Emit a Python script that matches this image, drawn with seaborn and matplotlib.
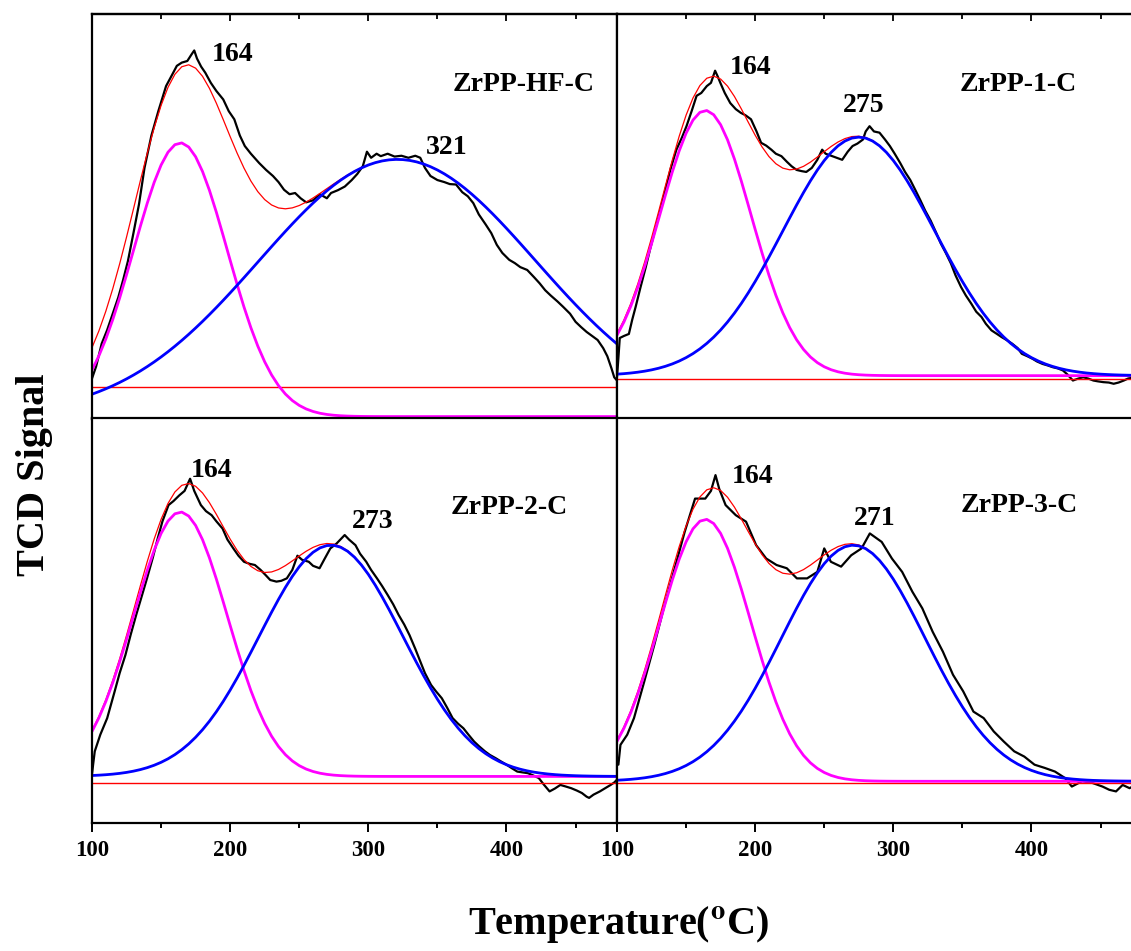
import numpy as np
import matplotlib
matplotlib.use("Agg")
import matplotlib.pyplot as plt
import seaborn as sns
from matplotlib.ticker import MultipleLocator

# ---------------------------------------------------------------- data
sample_names = ["ZrPP-HF-C", "ZrPP-1-C", "ZrPP-2-C", "ZrPP-3-C"]

# measured H2-TPR traces: temperature (°C) and TCD signal (a.u.)
temp_hf = [100, 103, 107, 111, 115, 119, 122.5, 126, 130, 134,
           138, 143, 148, 153.6, 158, 161.4, 165, 169, 172, 174,
           176, 179, 182, 186, 190, 195, 199, 203, 207, 210.6,
           215, 221, 226, 231, 235, 239, 243, 247, 251, 255,
           260, 265, 270, 273, 278, 283, 288, 292, 296, 299,
           302, 306, 309, 314, 319, 324, 329, 334, 337.6, 341,
           345, 350, 355, 359, 363.5, 368, 372, 376, 380, 385,
           389, 393, 397, 402, 406, 410, 415, 420, 424, 428,
           432, 437, 441, 446, 450, 454, 458, 462, 466, 470,
           473, 476, 478, 480]
tcd_hf = [10, 13, 18.6, 22, 26, 30, 34.3, 39, 45.9, 53,
          62, 70, 76, 82.2, 85, 87.2, 88, 88.4, 90, 91,
          89, 87, 85.5, 83, 81, 78.9, 76, 74, 70, 67.4,
          65.5, 63.2, 61.5, 60, 58.5, 56.6, 55.5, 55.8, 54.5, 53.5,
          54, 55.5, 54.5, 55.8, 56.5, 57.4, 59, 60.5, 62.4, 66,
          64.5, 65.5, 64.9, 65.5, 64.8, 65, 64.5, 65, 64.5, 62,
          60, 59, 58.5, 58, 57.9, 56, 55, 53.3, 50.5, 48,
          45.9, 43, 41, 39.3, 38.5, 37.5, 36.8, 35, 33.5, 31.8,
          30.5, 29, 27.7, 26, 24, 22.7, 21.5, 20.5, 19.5, 17.5,
          15.5, 12.5, 10.3, 9.5]

temp_1 = [100, 101, 102, 105, 108.6, 111, 113.5, 117, 120.9, 124,
          128.2, 132, 135.6, 139, 143, 147, 150.3, 154, 157.6, 161,
          165, 168, 171, 173, 174.8, 178, 182, 186, 189.6, 193,
          197, 201, 204.3, 208, 211.7, 215, 219, 223, 226.4, 230,
          233.7, 237, 241, 245, 248.5, 251, 255.8, 259, 263, 267,
          270.5, 274, 278, 280, 282.8, 286, 290, 294, 297.5, 301,
          305, 308.5, 312.3, 316, 319.6, 323, 327, 331, 334.3, 338,
          341.7, 345, 349, 352.5, 356.4, 360, 363.8, 367, 371, 375,
          378.5, 382, 386, 390, 393, 397, 400.6, 404, 408, 412,
          415.3, 419, 422.7, 426, 430, 434, 437.4, 441, 444.8, 448,
          452, 456, 459.5, 463, 466.8, 470, 475, 480]
tcd_1 = [10.3, 15, 20, 20.5, 21, 24.5, 27.7, 32.5, 37.6, 42,
         47.5, 52.5, 57.4, 62, 66.5, 69.5, 72.3, 76, 79.8, 80.5,
         82.2, 83, 86, 84.5, 83, 80.5, 78, 76.5, 75.6, 75,
         74, 71, 68.2, 67.5, 66.5, 65.5, 64.9, 63.5, 62.4, 61.5,
         61.2, 61, 62, 64, 66.5, 65.5, 64.9, 64.5, 64, 66,
         67.4, 68, 69, 71, 72.3, 71, 70.7, 69, 67.4, 65.5,
         63.2, 61, 59, 56.5, 54, 51.5, 49, 46, 43.4, 41,
         38.4, 35.5, 32.6, 30.5, 28.5, 26.5, 25.2, 23.5, 21.9, 21,
         20.2, 19.5, 18.6, 17.5, 16.1, 15.5, 14.9, 14.2, 13.6, 13.2,
         12.8, 12.5, 12, 11, 9.5, 10, 10.3, 10, 9.5, 9.3,
         9.1, 9, 8.7, 9, 9.5, 10, 10.3, 10]

temp_2 = [100, 100.8, 102, 106, 111, 116.4, 120, 124.2, 128, 132,
          136, 139.8, 144, 147.6, 151, 155.4, 159, 163.2, 167, 171,
          174, 178.8, 182.5, 186.6, 190, 194.5, 198, 202.3, 206, 210,
          214, 217.9, 222, 225.7, 229, 233.5, 237, 241, 245, 248.7,
          252, 256.9, 260, 264.7, 268, 272.5, 277, 282.9, 286, 290.7,
          294, 298.5, 302, 306.3, 310, 314, 318, 321.9, 326, 329.8,
          334, 337.6, 341, 345.4, 349, 353.2, 357, 361, 365, 368.8,
          372.5, 376.6, 380, 384.4, 388, 392.2, 396, 400, 404, 407.8,
          411.5, 415.5, 419, 423.4, 427, 431.2, 435, 439, 443, 446.8,
          451, 454.6, 458, 459.8, 463, 467.6, 471, 475.4, 478, 480]
tcd_2 = [12, 14.4, 17.7, 21.8, 25.9, 32.5, 37, 41.5, 46.5, 51.4,
         56, 60.4, 65.5, 70.3, 74.5, 78.5, 79.5, 80.9, 82, 85,
         82, 78.5, 77, 76, 74.5, 72.7, 70, 67.8, 66, 64.5,
         64, 63.7, 62.5, 61.2, 60, 59.6, 59.8, 60.4, 62.5, 66,
         65, 64.5, 63.5, 62.9, 65, 67.8, 69, 71.1, 70, 68.6,
         66.5, 64.5, 62.5, 60.4, 58.5, 56.3, 54, 51.4, 49, 46.4,
         43, 39.9, 37, 34.1, 32.5, 30.8, 28.5, 25.9, 24.5, 23.4,
         21.8, 20.1, 19, 17.7, 16.8, 16, 15.2, 14.4, 13.5, 12.7,
         12.5, 12.3, 11.8, 11.1, 9.5, 7.8, 8.5, 9.4, 9, 8.6,
         8, 7.4, 6.5, 6.2, 7, 7.8, 8.5, 9.4, 10, 10.7]

temp_3 = [101, 102.5, 107.4, 112.3, 119.7, 127, 134.4, 141.8, 149, 156.5,
          163.9, 168, 171.3, 174, 178.6, 186, 193.4, 200.7, 208, 215.5,
          222.9, 230.2, 237.6, 245, 250, 254.8, 262.2, 269.5, 277, 283,
          291.6, 299, 306.4, 313.8, 321, 328.5, 335.9, 343.2, 350.6, 358,
          365.4, 372.7, 380, 387.5, 394.8, 402.2, 409.6, 417, 424.3, 429.2,
          436.6, 444, 451.4, 456.3, 461.2, 466, 471, 476, 480]
tcd_3 = [14.4, 19.3, 21.8, 25.9, 34.9, 44, 53.8, 62.9, 71.9, 80.1,
         80.1, 82, 85.9, 82.5, 78.5, 76, 74.4, 68.6, 65.3, 63.7,
         62.9, 60.4, 60.4, 62, 67.8, 64.5, 63.3, 66.1, 67.8, 71.5,
         69.4, 65.3, 62, 57.1, 53, 47.2, 42.3, 36.6, 32.5, 27.5,
         25.9, 22.6, 20.1, 17.7, 16.4, 14.4, 13.6, 12.7, 11.1, 9,
         10.3, 9.9, 9, 8.2, 7.8, 9.4, 8.6, 9.5, 9.5]

# Gaussian deconvolution: low- and high-temperature reduction peaks
low_peak_center = [164, 164, 164, 164]
low_peak_height = [67.6, 65.5, 65.3, 64.7]
low_peak_sigma = [34, 33, 34, 33]
high_peak_center = [321, 275, 273, 271]
high_peak_height = [63.5, 58.9, 57.1, 58.3]
high_peak_sigma = [100, 55, 52, 52]
fit_offset = [0.6, 10.7, 11.5, 10.3]
baseline_level = [8.0, 9.9, 9.9, 10.0]

temps = [temp_hf, temp_1, temp_2, temp_3]
signals = [tcd_hf, tcd_1, tcd_2, tcd_3]

# ---------------------------------------------------------------- layout
# panel text anchors (temperature, signal) for the peak and sample labels
low_label_xy = [(187, 90), (181.7, 86.8), (171.6, 87.1), (183, 85.5)]
high_label_xy = [(342, 67), (263.7, 77.3), (288, 74.5), (271.5, 75.3)]
name_xy = [(361, 82.6), (348, 82.6), (359.7, 77.8), (348.6, 78.3)]

FIG_W, FIG_H = 1131, 951
panel_px = [(92, 14), (617, 14), (92, 418), (617, 418)]  # left, top
PANEL_W, PANEL_H = 525, 405

sns.set_theme(style="ticks")
plt.rcParams["font.family"] = ["Liberation Serif", "DejaVu Serif"]
plt.rcParams["font.weight"] = "bold"
plt.rcParams["mathtext.fontset"] = "stix"
plt.rcParams["text.color"] = "black"
plt.rcParams["xtick.color"] = "black"
plt.rcParams["xtick.labelcolor"] = "black"

fig = plt.figure(figsize=(FIG_W / 100, FIG_H / 100), dpi=100)

grid = np.arange(100, 482, 5.0)

for i in range(4):
    left, top = panel_px[i]
    rect = [left / FIG_W, 1 - (top + PANEL_H) / FIG_H, PANEL_W / FIG_W, PANEL_H / FIG_H]
    ax = fig.add_axes(rect)

    off = fit_offset[i]
    low = off + low_peak_height[i] * np.exp(-0.5 * ((grid - low_peak_center[i]) / low_peak_sigma[i]) ** 2)
    high = off + high_peak_height[i] * np.exp(-0.5 * ((grid - high_peak_center[i]) / high_peak_sigma[i]) ** 2)
    total = low + high - off

    sns.lineplot(x=temps[i], y=signals[i], ax=ax, color="black", linewidth=1.6,
                 estimator=None, sort=False)
    ax.axhline(baseline_level[i], color="#ff0000", linewidth=1.0)
    sns.lineplot(x=grid, y=total, ax=ax, color="#ff0000", linewidth=0.9, estimator=None, sort=False)
    sns.lineplot(x=grid, y=low, ax=ax, color="#ff00ff", linewidth=2.0, estimator=None, sort=False)
    sns.lineplot(x=grid, y=high, ax=ax, color="#0000ff", linewidth=2.0, estimator=None, sort=False)

    ax.set_xlim(100, 480)
    ax.set_ylim(0, 100)
    ax.set_yticks([])
    ax.set_xlabel("")
    ax.set_ylabel("")
    ax.xaxis.set_major_locator(MultipleLocator(100))
    ax.xaxis.set_minor_locator(MultipleLocator(50))
    ax.tick_params(axis="x", which="major", direction="out", length=6.5, width=1.4,
                   labelsize=16.5, pad=6, colors="black")
    ax.tick_params(axis="x", which="minor", direction="out", length=3.8, width=1.4)
    for sp in ax.spines.values():
        sp.set_linewidth(1.6)
        sp.set_color("black")

    if i < 2:
        ax.tick_params(labelbottom=False)
        sec = ax.secondary_xaxis("top")
        sec.xaxis.set_major_locator(MultipleLocator(100))
        sec.xaxis.set_minor_locator(MultipleLocator(50))
        sec.tick_params(axis="x", which="major", direction="in", length=5, width=1.3, labeltop=False)
        sec.tick_params(axis="x", which="minor", direction="in", length=3.5, width=1.3)
        sec.spines["top"].set_linewidth(1.6)
    else:
        for lab in ax.get_xticklabels():
            lab.set_fontweight("bold")

    tx, ty = low_label_xy[i]
    ax.text(tx, ty, f"{low_peak_center[i]}", fontsize=20, fontweight="bold",
            color="black", ha="left", va="center")
    tx, ty = high_label_xy[i]
    ax.text(tx, ty, f"{high_peak_center[i]}", fontsize=20, fontweight="bold",
            color="black", ha="left", va="center")
    tx, ty = name_xy[i]
    ax.text(tx, ty, sample_names[i], fontsize=20, fontweight="bold",
            color="black", ha="left", va="center")

fig.text(35 / FIG_W, 1 - 475 / FIG_H, "TCD Signal", rotation=90, fontsize=29,
         fontweight="bold", color="black", ha="center", va="center")
fig.text(618 / FIG_W, 1 - 925 / FIG_H, r"Temperature($^\mathbf{o}$C)", fontsize=29,
         fontweight="bold", color="black", ha="center", va="center")

fig.savefig("out.png", dpi=100)
